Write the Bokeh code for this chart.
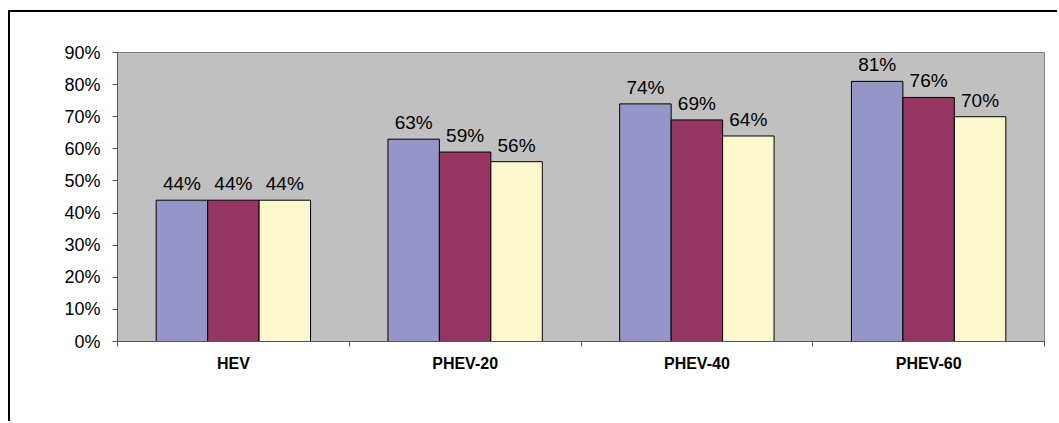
from bokeh.plotting import figure
from bokeh.models import (ColumnDataSource, Range1d, LinearAxis,
                          FixedTicker, NumeralTickFormatter, LabelSet, Label)
from bokeh.transform import dodge
from bokeh.core.properties import value
from bokeh.embed import file_html
from bokeh.resources import INLINE

categories = ["HEV", "PHEV-20", "PHEV-40", "PHEV-60"]
series = ["Low VMT", "Medium VMT", "High VMT"]
low_vmt = [0.44, 0.63, 0.74, 0.81]
medium_vmt = [0.44, 0.59, 0.69, 0.76]
high_vmt = [0.44, 0.56, 0.64, 0.70]
y_ticks = [0, 0.1, 0.2, 0.3, 0.4, 0.5, 0.6, 0.7, 0.8, 0.9]
colors = ["#9595C8", "#953562", "#FBF8CE"]

FONT = "Liberation Sans"

centers = [i + 0.5 for i in range(len(categories))]
bounds = list(range(len(categories) + 1))
src = ColumnDataSource(dict(
    x=centers, low=low_vmt, med=medium_vmt, high=high_vmt,
    low_t=[f"{v*100:.0f}%" for v in low_vmt],
    med_t=[f"{v*100:.0f}%" for v in medium_vmt],
    high_t=[f"{v*100:.0f}%" for v in high_vmt],
))

FRAME_H = 289  # pixel height of plot area
Y_MAX = 0.9

p = figure(width=1049, height=411, x_range=Range1d(0, len(categories)),
           y_range=Range1d(0, Y_MAX), output_backend="svg", toolbar_location=None,
           x_axis_location=None, y_axis_location=None,
           min_border_left=107, min_border_right=15, min_border_top=40, min_border_bottom=82)
p.margin = (10, 0, 0, 8)
p.background_fill_color = "#C0C0C0"
p.border_fill_color = "white"
p.outline_line_color = "#808080"
p.grid.visible = False
p.styles = {"border-top": "2px solid black", "border-left": "2px solid black"}

bw = 0.222
keys = ["low", "med", "high"]
offs = [-bw, 0, bw]
for k, o, c in zip(keys, offs, colors):
    p.vbar(x=dodge("x", o), top=k, width=bw, source=src,
           fill_color=c, line_color="black", line_width=1)
    p.add_layout(LabelSet(x=dodge("x", o), y=k, text=k + "_t", source=src,
                          text_align="center", text_baseline="alphabetic", y_offset=10,
                          text_font=value(FONT), text_font_size="19px", text_color="black"))

# y axis
yax = LinearAxis(ticker=FixedTicker(ticks=y_ticks), formatter=NumeralTickFormatter(format="0%"))
yax.major_label_text_font = FONT
yax.major_label_text_font_size = "18px"
yax.major_label_text_color = "black"
yax.major_tick_out = 5
yax.major_tick_in = 0
yax.minor_tick_out = 0
yax.minor_tick_in = 0
yax.major_label_standoff = 12
yax.axis_line_color = "#555555"
yax.major_tick_line_color = "#555555"
p.add_layout(yax, "left")

# x axis: labels at category centres, tick marks at category boundaries
xc = LinearAxis(ticker=FixedTicker(ticks=centers, minor_ticks=bounds),
                major_label_overrides={c: n for c, n in zip(centers, categories)})
xc.axis_line_color = "#555555"
xc.major_tick_line_color = None
xc.major_tick_out = 0
xc.major_tick_in = 0
xc.minor_tick_line_color = "#555555"
xc.minor_tick_out = 5
xc.minor_tick_in = 0
xc.major_label_text_font = FONT
xc.major_label_text_font_style = "bold"
xc.major_label_text_font_size = "16px"
xc.major_label_text_color = "black"
xc.major_label_standoff = 8
p.add_layout(xc, "below")

p.add_layout(Label(x=-75, y=Y_MAX / 2, x_units="screen", y_units="data", text="%",
                   text_font=FONT, text_font_style="bold", text_font_size="17px",
                   text_align="center", text_baseline="middle", text_color="black"))

# legend below the plot, built from labels (drawn outside the plot area)
LEG_FS = 19
SP = 0.278 * LEG_FS                      # width of one no-break space
label_w = [4.223 * LEG_FS, 5.945 * LEG_FS, 4.445 * LEG_FS]
gaps = [4, 6, 5, 2]                        # no-break spaces before/between/after labels
NB = "\u00a0"
leg_text = NB * gaps[0] + series[0] + NB * gaps[1] + series[1] + NB * gaps[2] + series[2] + NB * gaps[3]
pad = 5
inner_w = sum(label_w) + SP * sum(gaps)
leg_cx = 462.75                           # legend centre, px from plot-area left
leg_cy = -(62.5) * Y_MAX / FRAME_H        # legend centre, 62.5 px below the x axis
p.add_layout(Label(x=leg_cx, y=leg_cy, x_units="screen", y_units="data", text=leg_text,
                   text_font=FONT, text_font_size=f"{LEG_FS}px", text_color="black",
                   text_align="center", text_baseline="middle", padding=pad,
                   background_fill_color="white", border_line_color="black", border_line_width=1))

start = leg_cx - inner_w / 2 + SP * gaps[0]
for i, (c, w) in enumerate(zip(colors, label_w)):
    sw_x = start - 12
    p.add_layout(Label(x=sw_x, y=leg_cy, x_units="screen", y_units="data", text="\u2003\u2009",
                       text_font=FONT, text_font_size="9px", text_align="center",
                       text_baseline="middle", padding=0,
                       background_fill_color=c, border_line_color="black", border_line_width=1))
    if i + 1 < len(label_w):
        start += w + SP * gaps[i + 1]

open("out.html", "w").write(file_html(p, INLINE))
